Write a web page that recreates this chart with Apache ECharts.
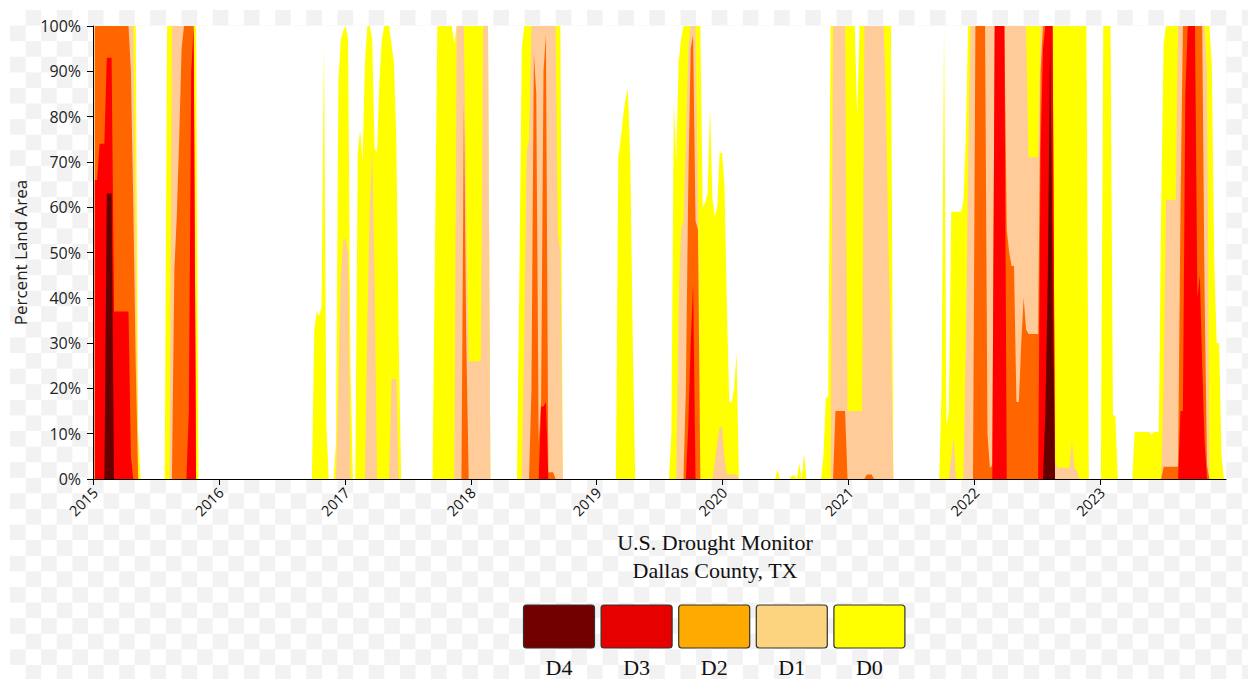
<!DOCTYPE html>
<html>
<head>
<meta charset="utf-8">
<title>U.S. Drought Monitor - Dallas County, TX</title>
<script src="https://cdn.jsdelivr.net/npm/echarts@6/dist/echarts.min.js"></script>
<style>
  html, body { margin: 0; padding: 0; background: #fff; }
  #wrap { position: relative; width: 1248px; height: 679px; overflow: hidden; }
  #checker {
    position: absolute; left: 10.3px; top: 10.4px; right: 0; bottom: 0;
    background-color: #fff;
    background-image: conic-gradient(#f2f2f2 25%, #fff 0 50%, #f2f2f2 0 75%, #fff 0);
    background-size: 31.2px 31.2px;
  }
  #chart { position: absolute; left: 0; top: 0; width: 1248px; height: 679px; }
</style>
</head>
<body>
<div id="wrap">
  <div id="checker"></div>
  <div id="chart"></div>
</div>
<script>
//------------------------------ data : cumulative % of land area, weekly readings ------------------------------
// D0 = D0-D4, D1 = D1-D4 ... (each area drawn from 0 up to its value)
var d0 = [
  ['2015-01-06',100],['2015-05-05',100],['2015-05-12',10],['2015-05-19',0],
  ['2015-07-28',0],['2015-08-04',100],['2015-10-27',100],['2015-11-03',0],
  ['2016-09-27',0],['2016-10-04',33],['2016-10-11',37],['2016-10-18',36],['2016-10-25',38],['2016-11-01',96],['2016-11-08',12],['2016-11-15',0],
  ['2016-11-29',0],['2016-12-06',8],['2016-12-13',88],['2016-12-20',97],['2016-12-27',99],['2017-01-03',100],['2017-01-10',97],['2017-01-17',25],['2017-01-24',0],
  ['2017-01-31',0],['2017-02-07',72],['2017-02-14',77],['2017-02-21',70],['2017-02-28',92],['2017-03-07',100],['2017-03-14',100],['2017-03-21',97],
  ['2017-03-28',73],['2017-04-04',72],['2017-04-11',88],['2017-04-18',97],['2017-04-25',100],['2017-05-09',100],['2017-05-16',96],['2017-05-23',92],
  ['2017-05-30',75],['2017-06-06',30],['2017-06-13',0],
  ['2017-09-12',0],['2017-09-19',50],['2017-09-26',100],['2017-11-07',100],['2017-11-14',96],['2017-11-21',100],['2018-02-20',100],['2018-02-27',0],
  ['2018-05-15',0],['2018-05-22',45],['2018-05-29',95],['2018-06-05',100],['2018-09-18',100],['2018-09-25',0],
  ['2019-02-26',0],['2019-03-05',71],['2019-03-12',75],['2019-03-19',80],['2019-03-26',84],['2019-04-02',86],['2019-04-09',70],['2019-04-16',30],['2019-04-23',0],
  ['2019-07-30',0],['2019-08-06',10],['2019-08-13',83],['2019-08-20',70],['2019-08-27',92],['2019-09-03',97],['2019-09-10',100],['2019-10-29',100],
  ['2019-11-05',60],['2019-11-12',61],['2019-11-19',63],['2019-11-26',82],['2019-12-03',62],['2019-12-10',58],['2019-12-17',60],['2019-12-24',72],
  ['2019-12-31',72],['2020-01-07',65],['2020-01-14',38],['2020-01-21',17],['2020-01-28',17],['2020-02-04',20],['2020-02-11',28],['2020-02-18',0],
  ['2020-06-02',0],['2020-06-09',2],['2020-06-16',0],['2020-07-14',0],['2020-07-21',0.8],['2020-07-28',0.8],['2020-08-04',0],['2020-08-11',3.5],
  ['2020-08-18',0],['2020-08-25',5.5],['2020-09-01',0],
  ['2020-10-13',0],['2020-10-20',5],['2020-10-27',18],['2020-11-03',18],['2020-11-10',100],['2021-01-19',100],['2021-01-26',80],['2021-02-02',100],
  ['2021-05-04',100],['2021-05-11',0],
  ['2021-09-21',0],['2021-09-28',20],['2021-10-05',100],['2021-10-12',12],['2021-10-19',15],['2021-10-26',59],['2021-11-23',59],['2021-11-30',61],
  ['2021-12-07',75],['2021-12-14',100],['2022-11-22',100],['2022-11-29',0],
  ['2023-01-03',0],['2023-01-10',100],['2023-01-31',100],['2023-02-07',14],['2023-02-14',14],['2023-02-21',0],
  ['2023-04-04',0],['2023-04-11',10.4],['2023-05-23',10.4],['2023-05-30',9.8],['2023-06-06',10.4],['2023-06-20',10.4],['2023-06-27',60],
  ['2023-07-04',96],['2023-07-11',100],['2023-11-14',100],['2023-11-21',91],['2023-11-28',48],['2023-12-05',30],['2023-12-12',30],['2023-12-19',5],['2023-12-26',0]
];
var d1 = [
  ['2015-01-06',100],['2015-04-28',100],['2015-05-05',50],['2015-05-12',0],
  ['2015-08-11',0],['2015-08-18',100],['2015-10-20',100],['2015-10-27',0],
  ['2016-12-06',0],['2016-12-13',20],['2016-12-20',45],['2016-12-27',53],['2017-01-03',53],['2017-01-10',50],['2017-01-17',0],
  ['2017-02-28',0],['2017-03-07',35],['2017-03-14',60],['2017-03-21',73],['2017-03-28',45],['2017-04-04',0],
  ['2017-05-09',0],['2017-05-16',22],['2017-05-30',22],['2017-06-06',0],
  ['2017-11-14',0],['2017-11-21',100],['2017-12-12',100],['2017-12-19',60],['2017-12-26',26],['2018-01-30',26],['2018-02-06',100],['2018-02-20',100],['2018-02-27',0],
  ['2018-05-29',0],['2018-06-05',30],['2018-06-12',72],['2018-06-19',75],['2018-06-26',100],['2018-09-04',100],['2018-09-11',54],['2018-09-18',50],['2018-09-25',0],
  ['2019-08-20',0],['2019-08-27',40],['2019-09-03',55],['2019-09-10',57],['2019-09-17',75],['2019-09-24',95],['2019-10-01',100],['2019-10-15',100],
  ['2019-10-22',65],['2019-10-29',0],
  ['2019-12-03',0],['2019-12-10',4],['2019-12-17',8],['2019-12-24',11.5],['2019-12-31',11.5],['2020-01-07',5],['2020-01-14',1],['2020-02-11',1],['2020-02-18',0],
  ['2020-11-10',0],['2020-11-17',100],['2020-12-22',100],['2020-12-29',15],['2021-02-09',15],['2021-02-16',100],['2021-04-13',100],['2021-04-20',80],
  ['2021-04-27',50],['2021-05-04',30],['2021-05-11',0],
  ['2021-10-19',0],['2021-10-26',5],['2021-11-02',9],['2021-11-09',0],
  ['2021-11-30',0],['2021-12-07',30],['2021-12-14',70],['2021-12-21',100],['2022-05-31',100],['2022-06-07',71],['2022-07-05',71],['2022-07-12',100],
  ['2022-08-16',100],['2022-08-23',4],['2022-08-30',2.5],['2022-10-04',2.5],['2022-10-11',8.6],['2022-10-18',2.5],['2022-10-25',2],['2022-11-01',0],
  ['2023-06-27',0],['2023-07-04',20],['2023-07-11',61.6],['2023-08-08',61.6],['2023-08-15',100],['2023-10-31',100],['2023-11-07',90],['2023-11-14',0]
];
var d2 = [
  ['2015-01-06',100],['2015-04-14',100],['2015-04-21',90],['2015-04-28',60],['2015-05-05',25],['2015-05-12',0],
  ['2015-08-18',0],['2015-08-25',46],['2015-09-01',58],['2015-09-08',75],['2015-09-15',95],['2015-09-22',100],['2015-10-20',100],['2015-10-27',0],
  ['2017-12-05',0],['2017-12-12',83],['2017-12-19',30],['2017-12-26',0],
  ['2018-06-19',0],['2018-06-26',20],['2018-07-03',94],['2018-07-10',85],['2018-07-17',8],['2018-07-24',17],['2018-07-31',90],['2018-08-07',98],
  ['2018-08-14',1.5],['2018-08-28',1.5],['2018-09-04',0],
  ['2019-09-10',0],['2019-09-17',20],['2019-09-24',65],['2019-10-01',95],['2019-10-08',98],['2019-10-15',57],['2019-10-22',55],['2019-10-29',0],
  ['2020-11-17',0],['2020-11-24',15],['2020-12-22',15],['2020-12-29',0],['2021-02-16',0],['2021-02-23',1],['2021-03-09',1],['2021-03-16',0],
  ['2021-12-28',0],['2022-01-04',100],['2022-02-01',100],['2022-02-08',10],['2022-02-15',2.5],['2022-02-22',3],['2022-03-01',100],['2022-03-29',100],
  ['2022-04-05',55],['2022-04-12',50],['2022-04-19',47],['2022-04-26',47],['2022-05-03',17],['2022-05-10',17],['2022-05-17',30],['2022-05-24',40],
  ['2022-05-31',33],['2022-06-07',32],['2022-07-05',32],['2022-07-12',90],['2022-07-19',100],['2022-08-16',100],['2022-08-23',0],
  ['2023-06-27',0],['2023-07-04',2.7],['2023-08-15',2.7],['2023-08-22',60],['2023-08-29',100],['2023-10-24',100],['2023-10-31',40],['2023-11-07',3],['2023-11-14',0]
];
var d3 = [
  ['2015-01-06',66],['2015-01-13',66],['2015-01-20',74],['2015-02-03',74],['2015-02-10',93],['2015-02-24',93],['2015-03-03',37],['2015-04-14',37],
  ['2015-04-21',5],['2015-04-28',0],
  ['2015-09-29',0],['2015-10-06',15],['2015-10-13',90],['2015-10-20',100],['2015-10-27',0],
  ['2018-07-17',0],['2018-07-24',16],['2018-07-31',16],['2018-08-07',17],['2018-08-14',0],
  ['2019-09-17',0],['2019-09-24',12],['2019-10-01',30],['2019-10-08',43],['2019-10-15',0],
  ['2022-02-22',0],['2022-03-01',100],['2022-03-29',100],['2022-04-05',0],
  ['2022-07-05',0],['2022-07-12',72],['2022-07-19',95],['2022-07-26',100],['2022-08-16',100],['2022-08-23',0],
  ['2023-08-15',0],['2023-08-22',15],['2023-08-29',15],['2023-09-05',85],['2023-09-12',100],['2023-10-03',100],['2023-10-10',40],['2023-10-17',45],
  ['2023-10-24',25],['2023-10-31',8],['2023-11-07',0]
];
var d4 = [
  ['2015-02-03',0],['2015-02-10',63],['2015-02-24',63],['2015-03-03',0],
  ['2022-07-19',0],['2022-07-26',15],['2022-08-02',45],['2022-08-09',98],['2022-08-16',45],['2022-08-23',0]
];

var seriesNames = ['D0', 'D1', 'D2', 'D3', 'D4'];
var seriesData = [d0, d1, d2, d3, d4];
var areaColors = ['#ffff00', '#ffcc99', '#ff6600', '#ff0000', '#660000'];

var legendNames = ['D4', 'D3', 'D2', 'D1', 'D0'];
var legendColors = ['#730000', '#e60000', '#ffaa00', '#fcd37f', '#ffff00'];

var titleLines = ['U.S. Drought Monitor', 'Dallas County, TX'];

//------------------------------ chart ------------------------------
var chart = echarts.init(document.getElementById('chart'), null, { renderer: 'svg' });
var YEAR = 365.25 * 24 * 3600 * 1000;

// 面积图 (overlapping, D0 underneath)
var series = [];
for (var i = 0; i < seriesNames.length; i++) {
  series.push({
    name: seriesNames[i],
    type: 'line',
    data: seriesData[i],
    symbol: 'none',
    showSymbol: false,
    silent: true,
    lineStyle: { width: 0, opacity: 0 },
    itemStyle: { color: areaColors[i] },
    areaStyle: { color: areaColors[i], opacity: 1, origin: 'start' },
    z: 2 + i
  });
}

// legend boxes + caption (labels sit under the swatches)
var graphics = [];
for (var t = 0; t < titleLines.length; t++) {
  graphics.push({
    type: 'text', silent: true,
    style: {
      text: titleLines[t], x: 715, y: 542 + t * 28,
      fill: '#111', fontFamily: '"Liberation Serif", "Times New Roman", serif', fontSize: 22,
      align: 'center', verticalAlign: 'middle'
    }
  });
}
for (var k = 0; k < legendNames.length; k++) {
  var bx = 523.5 + k * 77.6;
  graphics.push({
    type: 'rect', silent: true,
    shape: { x: bx, y: 605, width: 71, height: 43, r: 3 },
    style: { fill: legendColors[k], stroke: '#333', lineWidth: 1.2 }
  });
  graphics.push({
    type: 'text', silent: true,
    style: {
      text: legendNames[k], x: bx + 35.5, y: 667,
      fill: '#111', fontFamily: '"Liberation Serif", "Times New Roman", serif', fontSize: 22,
      align: 'center', verticalAlign: 'middle'
    }
  });
}

var option = {
  animation: false,
  backgroundColor: 'transparent',
  grid: { left: 93, right: 22, top: 26, bottom: 200, show: true, backgroundColor: '#ffffff', borderWidth: 0 },
  xAxis: {
    type: 'time',
    min: new Date(2015, 0, 1).getTime(),
    max: new Date(2024, 0, 1).getTime(),
    minInterval: YEAR,
    maxInterval: YEAR,
    splitNumber: 9,
    axisLine: { show: true, lineStyle: { color: '#000', width: 1 } },
    axisTick: { show: true, length: 6, lineStyle: { color: '#000' } },
    axisLabel: {
      rotate: 45, margin: 13, fontSize: 14.5, color: '#111', fontFamily: 'Open Sans',
      hideOverlap: false, padding: [0, -3, 0, 0],
      formatter: function (v) {
        var y = new Date(v).getFullYear();
        return y < 2024 ? String(y) : '';
      }
    },
    splitLine: { show: false }
  },
  yAxis: {
    type: 'value', min: 0, max: 100, interval: 10,
    name: 'Percent Land Area', nameLocation: 'middle', nameGap: 63,
    nameTextStyle: { fontSize: 17, color: '#222', fontFamily: 'Open Sans' },
    axisLine: { show: true, lineStyle: { color: '#000', width: 1 } },
    axisTick: { show: true, length: 6, lineStyle: { color: '#000' } },
    axisLabel: { formatter: '{value}%', fontSize: 16, color: '#222', fontFamily: 'Open Sans', margin: 12 },
    splitLine: { show: false }
  },
  series: series,
  graphic: graphics
};

chart.setOption(option);
</script>
</body>
</html>
